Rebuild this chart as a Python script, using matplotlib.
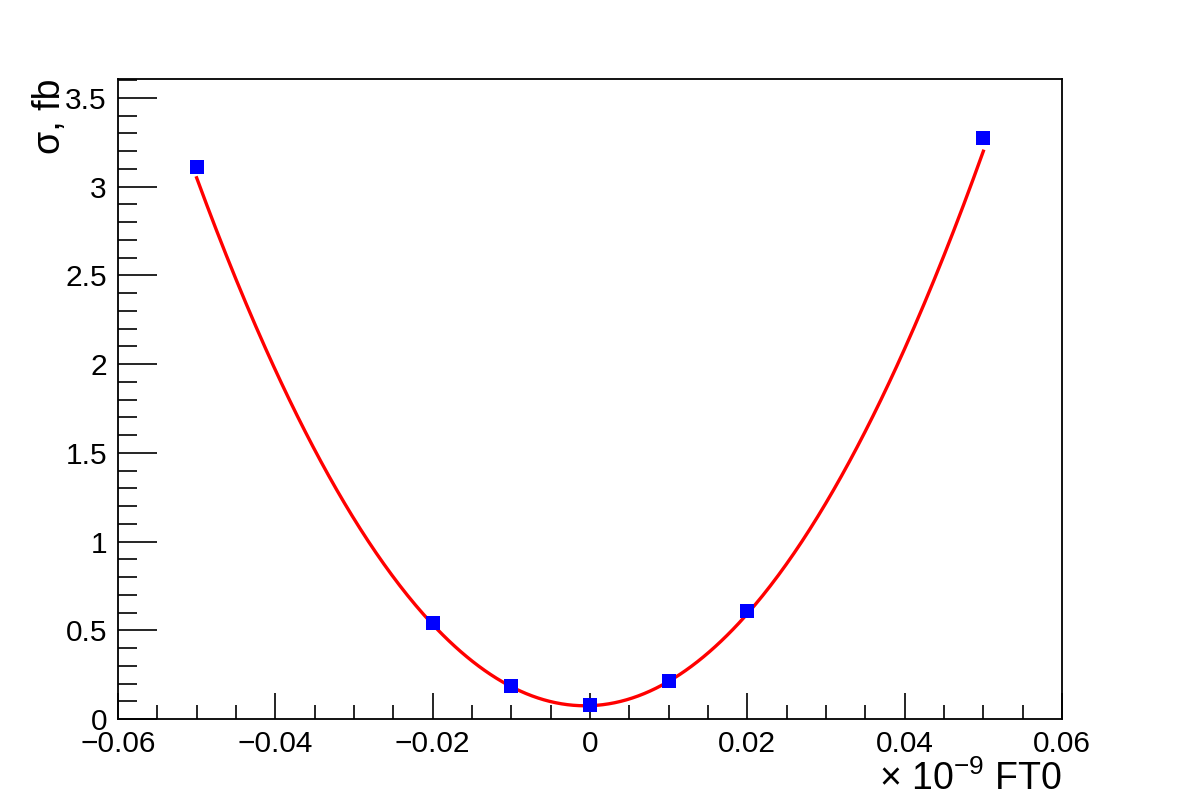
import numpy as np
import matplotlib.pyplot as plt
from matplotlib.ticker import MultipleLocator

ft0 = [-0.05, -0.02, -0.01, 0.0, 0.01, 0.02, 0.05]
sigma = [3.11, 0.541, 0.186, 0.079, 0.214, 0.609, 3.275]

# quadratic fit parameters p0 + p1*x + p2*x^2
fit_p = [0.075, 1.5, 1220.0]
fit_range = (-0.05, 0.05)

plt.rcParams.update({
    "font.family": ["Liberation Sans", "DejaVu Sans"],
    "mathtext.fontset": "custom",
    "mathtext.rm": "Liberation Sans",
    "xtick.labelsize": 21.5,
    "ytick.labelsize": 21.5,
})

fig = plt.figure(figsize=(11.82, 8.0), dpi=100)
ax = fig.add_axes([118 / 1182, 1 - 719 / 800, 944 / 1182, 640 / 800])

xf = np.linspace(fit_range[0], fit_range[1], 400)
yf = np.polyval(fit_p[::-1], xf)
ax.plot(xf, yf, color="#FF0000", linewidth=2.4, zorder=2)

ax.plot(ft0, sigma, linestyle="none", marker="s", markersize=9.5,
        color="#0000FF", markeredgewidth=0, zorder=3)

ax.set_xlim(-0.06, 0.06)
ax.set_ylim(0, 3.607)

ax.xaxis.set_major_locator(MultipleLocator(0.02))
ax.xaxis.set_minor_locator(MultipleLocator(0.005))
ax.yaxis.set_major_locator(MultipleLocator(0.5))
ax.yaxis.set_minor_locator(MultipleLocator(0.1))


def fmt(v, pos):
    s = f"{v:g}"
    if abs(v) < 1e-12:
        s = "0"
    return s.replace("-", "\u2212")


ax.xaxis.set_major_formatter(plt.FuncFormatter(fmt))
ax.yaxis.set_major_formatter(plt.FuncFormatter(fmt))

ax.tick_params(axis="both", which="both", direction="in", top=False, right=False,
               color="black", width=1.2)
ax.tick_params(axis="x", which="major", length=19, pad=8)
ax.tick_params(axis="x", which="minor", length=10)
ax.tick_params(axis="y", which="major", length=28, pad=8)
ax.tick_params(axis="y", which="minor", length=14)

for sp in ax.spines.values():
    sp.set_linewidth(1.3)
    sp.set_color("black")

ax.set_xlabel("\u00d7 10$^{\\mathregular{-9}}$ FT0", fontsize=27, loc="right", labelpad=2)
ax.set_ylabel("\u03c3, fb", fontsize=27, loc="top", labelpad=-2)

fig.savefig("out.png", dpi=100, facecolor="white")
